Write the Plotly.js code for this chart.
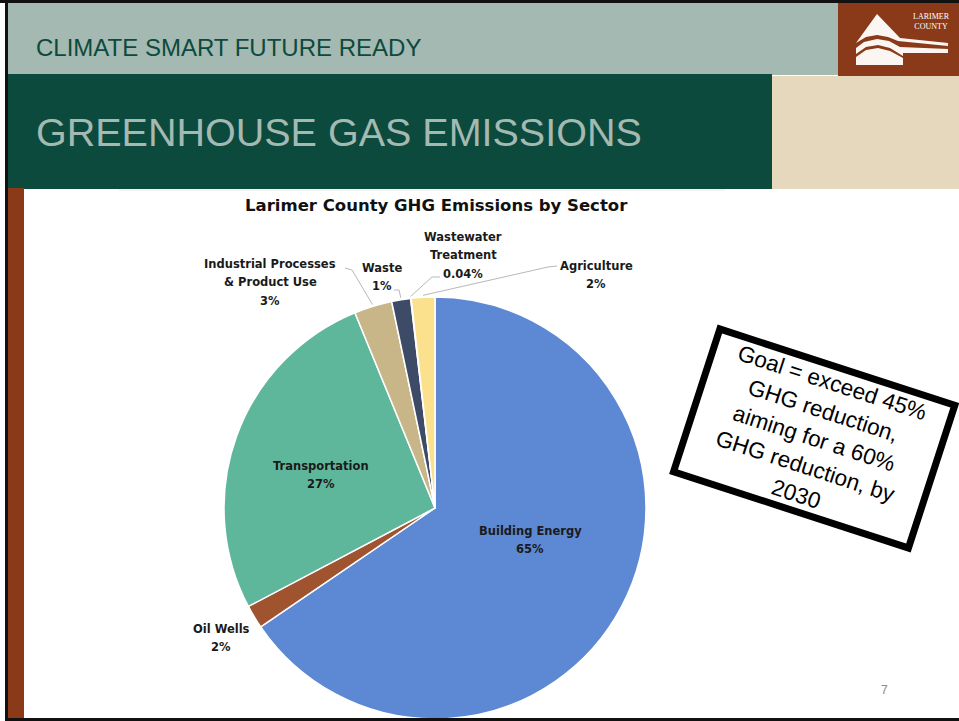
<!DOCTYPE html>
<html>
<head>
<meta charset="utf-8">
<script src="https://cdn.plot.ly/plotly-3.0.1.min.js"></script>
<style>
  html, body { margin: 0; padding: 0; background: #ffffff; }
  #chart { width: 959px; height: 721px; }
</style>
</head>
<body>
<div id="chart"></div>
<script>
// ---- data ----
const sectors = ['Building Energy', 'Oil Wells', 'Transportation', 'Industrial Processes<br>& Product Use', 'Waste', 'Wastewater<br>Treatment', 'Agriculture'];
const shares = [65.4, 1.8, 26.5, 2.9, 1.45, 0.04, 1.8];
const shareLabels = ['65%', '2%', '27%', '3%', '1%', '0.04%', '2%'];
const sliceColors = ['#5d88d3', '#a0532f', '#5fb79b', '#c9b688', '#3d4b66', '#e8e8e8', '#fbe08e'];

const chartTitle = 'Larimer County GHG Emissions by Sector';
const headerText = 'CLIMATE SMART FUTURE READY';
const slideTitle = 'GREENHOUSE GAS EMISSIONS';
const goalText = 'Goal = exceed 45%<br>GHG reduction,<br>aiming for a 60%<br>GHG reduction, by<br>2030';
const pageNumber = '7';

// ---- geometry / style ----
const W = 959, H = 721;
const CX = 435, CY = 508, R = 211;
const px = x => x / W;
const py = y => 1 - y / H;
const LINE_GAP = 18.5;

// label positions (pixel centres) and leader-line bends, per slice (null = none)
const labelPos = [[530, 540], [221, 638], [321, 475], [270, 282], [382, 277], [463, 255], [596, 275]];
const leaderBend = [null, null, null, [[345, 268], [352, 270]], [[394, 290], [399, 290]], [[440, 277], [432, 277]], [[557, 266], [548, 267]]];

// compute slice mid-angle edge points from data
const total = shares.reduce((a, b) => a + b, 0);
function edgePoint(i, rr) {
  let before = 0;
  for (let k = 0; k < i; k++) before += shares[k];
  const frac = (before + shares[i] / 2) / total;
  const th = 2 * Math.PI * frac;
  return [CX + rr * Math.sin(th), CY - rr * Math.cos(th)];
}

const pieTrace = {
  type: 'pie',
  labels: sectors,
  values: shares,
  sort: false,
  direction: 'clockwise',
  rotation: 0,
  textinfo: 'none',
  hoverinfo: 'skip',
  showlegend: false,
  marker: { colors: sliceColors, line: { color: '#ffffff', width: 1.5 } },
  domain: { x: [px(CX - R), px(CX + R)], y: [py(CY + R), py(CY - R)] }
};

const shapes = [
  { type: 'rect', xref: 'paper', yref: 'paper', x0: 0, x1: 1, y0: py(3), y1: 1, fillcolor: '#111', line: { width: 0 }, layer: 'below' },
  { type: 'rect', xref: 'paper', yref: 'paper', x0: px(8), x1: px(838), y0: py(75), y1: py(3), fillcolor: '#a4b9b1', line: { width: 0 }, layer: 'below' },
  { type: 'rect', xref: 'paper', yref: 'paper', x0: px(838), x1: 1, y0: py(76), y1: py(3), fillcolor: '#8a3a18', line: { width: 0 }, layer: 'below' },
  { type: 'rect', xref: 'paper', yref: 'paper', x0: px(772), x1: 1, y0: py(189), y1: py(76), fillcolor: '#e5d8bc', line: { width: 0 }, layer: 'below' },
  { type: 'rect', xref: 'paper', yref: 'paper', x0: px(8), x1: px(772), y0: py(189), y1: py(74), fillcolor: '#0c4a3e', line: { width: 0 }, layer: 'below' },
  { type: 'rect', xref: 'paper', yref: 'paper', x0: px(8), x1: px(24), y0: py(718), y1: py(188), fillcolor: '#8a3a18', line: { width: 0 }, layer: 'below' },
  { type: 'rect', xref: 'paper', yref: 'paper', x0: px(5), x1: px(8), y0: 0, y1: 1, fillcolor: '#111', line: { width: 0 }, layer: 'below' },
  { type: 'rect', xref: 'paper', yref: 'paper', x0: px(5), x1: 1, y0: 0, y1: py(718), fillcolor: '#111', line: { width: 0 }, layer: 'above' },
  { type: 'line', xref: 'paper', yref: 'paper', x0: px(119), x1: px(725), y0: py(190), y1: py(190), line: { color: '#e6e6e6', width: 1 }, layer: 'below' }
];

// logo (white mountain marks)
function pathPx(pts) {
  return 'M' + pts.map(p => px(p[0]) + ',' + py(p[1])).join(' L') + ' Z';
}
const WHITE = '#fbf6f2';
shapes.push({ type: 'path', xref: 'paper', yref: 'paper', path: pathPx([[856, 43], [877, 14], [900, 38], [948, 43], [948, 46], [898, 41], [888, 37], [877, 35], [866, 37]]), fillcolor: WHITE, line: { width: 0 } });
shapes.push({ type: 'path', xref: 'paper', yref: 'paper', path: pathPx([[856, 65], [856, 48], [864, 42], [877, 39], [889, 41], [900, 47], [948, 49], [948, 53], [903, 53], [903, 65]]), fillcolor: WHITE, line: { width: 0 } });
shapes.push({ type: 'path', xref: 'paper', yref: 'paper', path: pathPx([[856, 54], [866, 47], [878, 45], [890, 48], [903, 56], [948, 56], [948, 58], [903, 58], [890, 51], [878, 48], [866, 50], [856, 57]]), fillcolor: '#8a3a18', line: { width: 0 } });

// leader lines computed from slice positions
leaderBend.forEach((bend, i) => {
  if (!bend) return;
  const e = edgePoint(i, R + 2);
  const pts = [bend[0], bend[1], e];
  shapes.push({
    type: 'path', xref: 'paper', yref: 'paper',
    path: 'M' + pts.map(p => px(p[0]) + ',' + py(p[1])).join(' L'),
    line: { color: '#b8b8b8', width: 1 }
  });
});

const labelFont = { family: 'DejaVu Sans, sans-serif', size: 11.5, color: '#1a1a1a', weight: 700 };
const annotations = [];
sectors.forEach((s, i) => {
  const lines = (s + '<br>' + shareLabels[i]).split('<br>');
  const n = lines.length;
  lines.forEach((ln, k) => {
    annotations.push({
      xref: 'paper', yref: 'paper', x: px(labelPos[i][0]),
      y: py(labelPos[i][1] + (k - (n - 1) / 2) * LINE_GAP),
      xanchor: 'center', yanchor: 'middle', showarrow: false, align: 'center',
      text: ln, font: labelFont
    });
  });
});

annotations.push({
  xref: 'paper', yref: 'paper', x: px(436), y: py(205), xanchor: 'center', yanchor: 'middle', showarrow: false,
  text: chartTitle, font: { family: 'DejaVu Sans, sans-serif', size: 16.5, color: '#111', weight: 700 }
});
annotations.push({
  xref: 'paper', yref: 'paper', x: px(34), y: py(48), xanchor: 'left', yanchor: 'middle', showarrow: false,
  text: headerText, font: { family: 'Liberation Sans, Arial, sans-serif', size: 24, color: '#0c4a3e' }
});
annotations.push({
  xref: 'paper', yref: 'paper', x: px(34), y: py(132), xanchor: 'left', yanchor: 'middle', showarrow: false,
  text: slideTitle, font: { family: 'Liberation Sans, Arial, sans-serif', size: 39.5, color: '#a4b9b1' }
});
annotations.push({
  xref: 'paper', yref: 'paper', x: px(931), y: py(22), xanchor: 'center', yanchor: 'middle', showarrow: false,
  text: 'LARIMER<br>COUNTY', font: { family: 'Liberation Serif, serif', size: 8, color: '#ffffff' }
});
annotations.push({
  xref: 'paper', yref: 'paper', x: px(884), y: py(690), xanchor: 'center', yanchor: 'middle', showarrow: false,
  text: pageNumber, font: { family: 'Liberation Sans, Arial, sans-serif', size: 12, color: '#8a8a8a' }
});
annotations.push({
  xref: 'paper', yref: 'paper', x: px(814), y: py(439), xanchor: 'center', yanchor: 'middle', showarrow: false,
  text: goalText, textangle: 18, align: 'center',
  width: 240, height: 143, borderpad: 0, bordercolor: '#000', borderwidth: 7, bgcolor: '#ffffff',
  font: { family: 'Liberation Sans, Arial, sans-serif', size: 22.5, color: '#000' }
});

const layout = {
  width: W, height: H,
  margin: { l: 0, r: 0, t: 0, b: 0 },
  paper_bgcolor: '#ffffff',
  shapes: shapes,
  annotations: annotations,
  showlegend: false
};

Plotly.newPlot('chart', [pieTrace], layout, { displayModeBar: false, staticPlot: true });
</script>
</body>
</html>
